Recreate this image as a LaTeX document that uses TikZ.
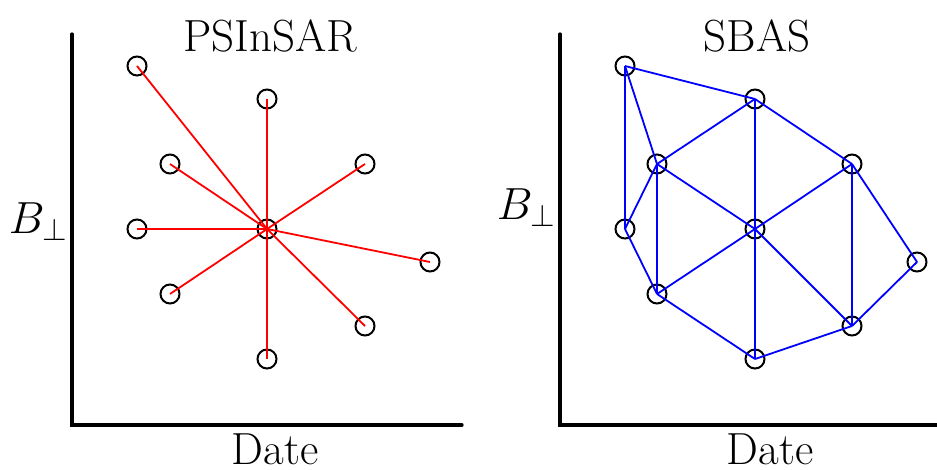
\RequirePackage{fix-cm}
\documentclass[tikz,border=0pt]{standalone}
\begin{document}
\begin{tikzpicture}[x=1pt,y=-1pt,
  pt/.style={circle,draw=black,line width=2pt,minimum size=19pt,inner sep=0pt},
  axis/.style={line width=3.2pt,line cap=round},
  redl/.style={red,line width=1.8pt},
  bluel/.style={blue,line width=1.8pt},
  lbl/.style={font=\fontsize{45}{48}\selectfont,inner sep=0pt}]
\useasboundingbox (0,0) rectangle (937,470);
% left axes
\coordinate (lo) at (72,425);
\coordinate (ly) at (72,34);
\coordinate (lx) at (462,425);
\draw[axis] (ly) -- (lo) -- (lx);
\node[lbl,anchor=base] (t1) at (270,52) {PSInSAR};
\node[lbl,anchor=base] (d1) at (275,464) {Date};
\node[lbl] (b1) at (38,222) {$B_\perp$};
% left points
\foreach \n/\x/\y in {a1/137/66,a2/267/99,a3/170/164,a4/365/164,a5/137/229,c/267/229,a7/430/262,a8/170/294,a9/365/326,a10/267/359}
  \node[pt] (\n) at (\x,\y) {};
\foreach \n in {a1,a2,a3,a4,a5,a7,a8,a9,a10}
  \draw[redl] (c.center) -- (\n.center);
% right axes
\coordinate (ro) at (560,425);
\coordinate (ry) at (560,34);
\coordinate (rx) at (940,425);
\draw[axis] (ry) -- (ro) -- (rx);
\node[lbl,anchor=base] (t2) at (757,52) {SBAS};
\node[lbl,anchor=base] (d2) at (770,464) {Date};
\node[lbl] (b2) at (526,208) {$B_\perp$};
\foreach \n/\x/\y in {s1/625/66,s2/755/99,s3/657/164,s4/852/164,s5/625/229,s6/755/229,s7/917/262,s8/657/294,s9/852/326,s10/755/359}
  \node[pt] (\n) at (\x,\y) {};
\foreach \a/\b in {s1/s2,s1/s3,s1/s5,s2/s3,s2/s6,s2/s4,s3/s5,s3/s8,s3/s6,s4/s6,s4/s9,s4/s7,s5/s8,s6/s8,s6/s10,s6/s9,s8/s10,s9/s10,s7/s9}
  \draw[bluel] (\a.center) -- (\b.center);
\end{tikzpicture}
\end{document}
